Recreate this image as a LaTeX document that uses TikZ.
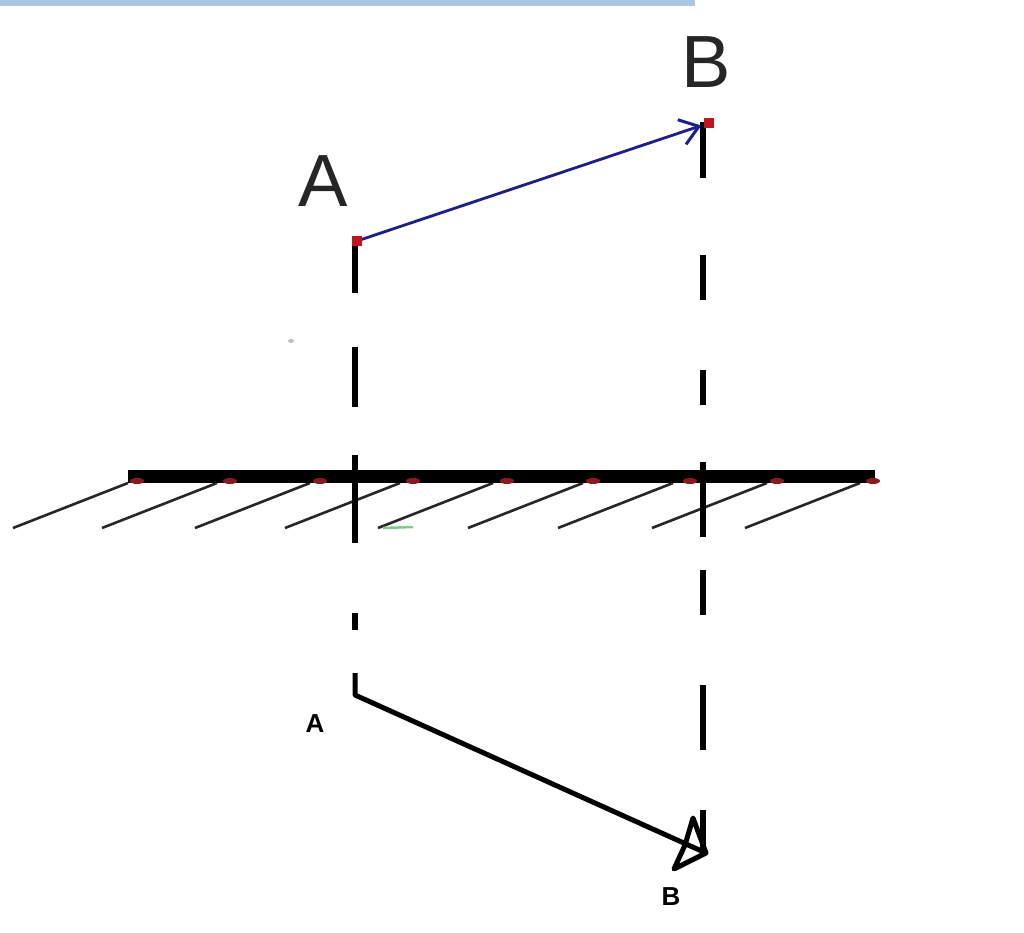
\documentclass[tikz,border=0pt]{standalone}
\usepackage{fontspec}
\setmainfont{Liberation Sans}
\usetikzlibrary{arrows.meta}
\definecolor{barblue}{HTML}{A9C7E3}
\definecolor{navyline}{HTML}{1C1F8A}
\definecolor{dotred}{HTML}{C0141E}
\definecolor{grounddot}{HTML}{8A1A22}
\tikzset{
  projline/.style={line width=5.5pt, black},
  hatchline/.style={line width=2.6pt, black!85},
  groundline/.style={line width=13pt, black},
  ptmark/.style={fill=dotred, draw=none},
  biglabel/.style={anchor=base, inner sep=0pt, font=\fontsize{74}{80}\selectfont, text=black!85},
  smalllabel/.style={anchor=base, inner sep=0pt, font=\bfseries\fontsize{26}{30}\selectfont},
}
\begin{document}
\begin{tikzpicture}[x=1pt,y=-1pt]
\useasboundingbox (0,0) rectangle (1024,933);
\fill[white] (0,0) rectangle (1024,933);
% top bar
\fill[barblue] (0,0) rectangle (695,6);
% faint dot
\fill[black!25] (291,341) ellipse (3 and 2);

% key points
\coordinate (A) at (357,241);
\coordinate (B) at (709,123);
\coordinate (A2) at (355,695);
\coordinate (B2) at (706,853);

% labels
\node[biglabel] (lA) at (323,207) {A};
\node[biglabel] (lB) at (706,88) {B};
\node[smalllabel] (la) at (315,732) {A};
\node[smalllabel] (lb) at (671,905) {B};

% ground
\foreach \s in {128,217,310,400,493,583,673,767,860}{
  \draw[hatchline] (\s,483) -- (\s-115,528);
}
\draw[groundline] (128,476) -- (875,476);
\foreach \s in {137,230,320,413,507,593,690,777,873}{
  \fill[grounddot] (\s,481) ellipse (7 and 3);
}
\draw[line width=2.5pt, green!60!black!50] (383,528) -- (413,527);

% left projection (dashes)
\draw[projline] (355,243) -- (355,293);
\draw[projline] (355,347) -- (355,407);
\draw[projline] (355,455) -- (355,543);
\draw[projline] (355,613) -- (355,630);
% right projection (dashes)
\draw[projline] (703,122) -- (703,178);
\draw[projline] (703,255) -- (703,300);
\draw[projline] (703,370) -- (703,405);
\draw[projline] (703,462) -- (703,537);
\draw[projline] (703,570) -- (703,615);
\draw[projline] (703,685) -- (703,750);
\draw[projline] (703,810) -- (703,850);

% bottom projected vector
\draw[line width=5pt, line join=round] (355,673) -- (A2) -- (B2);
\draw[line width=5pt, line join=round, line cap=round] (693,818) -- (685,845) -- (674,869) -- (B2) -- cycle;

% top vector
\draw[navyline, line width=2.8pt, shorten >=8pt, -{Straight Barb[length=18pt, width=26pt, line width=3pt]}] (A) -- (B);
\fill[ptmark] (A) ++(-5,-5) rectangle ++(10,10);
\fill[ptmark] (B) ++(-5,-5) rectangle ++(10,10);
\end{tikzpicture}
\end{document}
